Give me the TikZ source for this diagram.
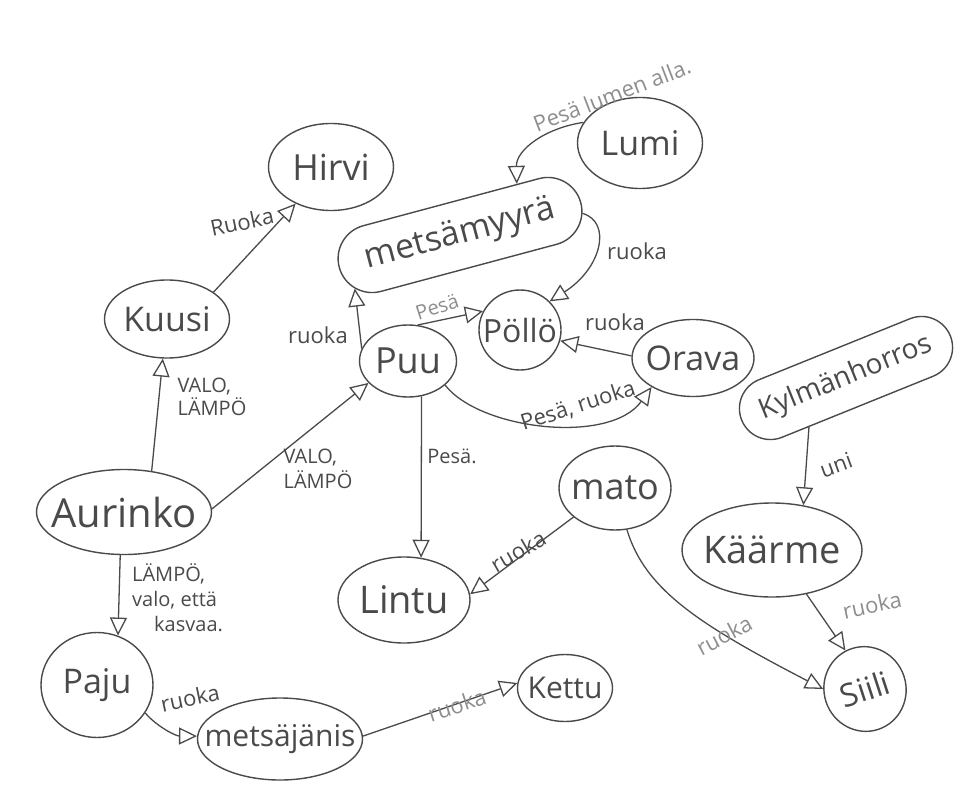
\documentclass[tikz,border=0pt]{standalone}
\usepackage{fontspec}
\setmainfont{Open Sans}
\usetikzlibrary{shapes.geometric,shapes.misc,arrows.meta}
\definecolor{ink}{HTML}{4A4A4A}
\definecolor{paleink}{HTML}{8E8E8E}
% text that does not widen its outline
\newcommand\fitless[1]{\makebox[0pt]{#1}}
\newcommand\sizeto[2]{\fontsize{#1}{#2}\selectfont}
\begin{document}
\begin{tikzpicture}[x=1pt,y=-1pt,
  blob/.style={ellipse,draw=ink,line width=1.4pt,inner sep=0pt,text=ink},
  capsule/.style={rounded rectangle,draw=ink,line width=1.4pt,inner sep=0pt,text=ink},
  link/.style={draw=ink,line width=1.3pt,-{Triangle[open,length=18pt,width=17pt]}},
  lbl/.style={text=ink,inner sep=0pt,align=left,font=\sizeto{22}{25}},
  pale/.style={text=paleink}]
\fill[white] (0,0) rectangle (980,789);
\useasboundingbox (0,0) rectangle (980,789);

% concepts
\node[blob,minimum width=125,minimum height=87,font=\sizeto{36}{40}] (hirvi) at (331,167) {\fitless{Hirvi}};
\node[blob,minimum width=125,minimum height=91,font=\sizeto{34}{38}] (lumi) at (640,143) {\fitless{Lumi}};
\node[capsule,minimum width=250,minimum height=68,rotate=15,font=\sizeto{34}{38}] (myyra) at (460,235) {\fitless{metsämyyrä}};
\node[blob,minimum width=125,minimum height=78,font=\sizeto{34}{38}] (kuusi) at (167,319) {\fitless{Kuusi}};
\node[blob,minimum width=82,minimum height=80,font=\sizeto{32}{36}] (pollo) at (520,330) {\fitless{Pöllö}};
\node[blob,minimum width=97,minimum height=72,font=\sizeto{36}{40}] (puu) at (408,361) {\fitless{Puu}};
\node[blob,minimum width=122,minimum height=77,font=\sizeto{34}{38}] (orava) at (693,358) {\fitless{Orava}};
\node[capsule,minimum width=225,minimum height=62,rotate=22,font=\sizeto{28}{32}] (kylm) at (846,378) {\fitless{Kylmänhorros}};
\node[blob,minimum width=112,minimum height=84,font=\sizeto{36}{40}] (mato) at (615,488) {\fitless{mato}};
\node[blob,minimum width=175,minimum height=85,font=\sizeto{40}{44}] (aurinko) at (124,512) {\fitless{Aurinko}};
\node[blob,minimum width=180,minimum height=94,font=\sizeto{38}{42}] (kaarme) at (772,550) {\fitless{Käärme}};
\node[blob,minimum width=132,minimum height=86,font=\sizeto{38}{42}] (lintu) at (404,600) {\fitless{Lintu}};
\node[blob,minimum width=112,minimum height=105,font=\sizeto{34}{38}] (paju) at (97,685) {\fitless{Paju}};
\node[blob,minimum width=165,minimum height=82,font=\sizeto{30}{34}] (jani) at (280,739) {\fitless{metsäjänis}};
\node[blob,minimum width=95,minimum height=67,font=\sizeto{30}{34}] (kettu) at (565,688) {\fitless{Kettu}};
\node[blob,minimum width=82,minimum height=85,rotate=18,font=\sizeto{32}{36}] (siili) at (865,689) {\fitless{Siili}};

% links
\draw[link] (kuusi.30) -- (hirvi.226);
\draw[link] (aurinko.56) -- (kuusi.264);
\draw[link] (aurinko.2) -- (puu.209);
\draw[link] (aurinko.265) -- (paju.67);
\draw[link] (paju.-30) .. controls (155,725) and (175,736) .. (jani.178);
\draw[link] (jani.2) -- (kettu.174);
\draw[link] (lumi.160) .. controls (545,128) and (516,150) .. (myyra.27);
\draw[link] (puu.165) -- (myyra.192);
\draw[link] (puu.75) -- (pollo.153);
\draw[link] (myyra.-5) .. controls (612,222) and (602,268) .. (pollo.44);
\draw[link] (orava.178) -- (pollo.-15);
\draw[link] (puu.-33) .. controls (480,430) and (610,445) .. (orava.215);
\draw[link] (puu.-69) -- (lintu.68);
\draw[link] (mato.215) -- (lintu.5);
\draw[link] (mato.-74) .. controls (645,590) and (700,625) .. (siili.162);
\draw[link] (kylm.211) -- (kaarme.55);
\draw[link] (kaarme.-52) -- (siili.99);

% link labels
\node[lbl,rotate=12] (t-hirvi) at (242,222) {Ruoka};
\node[lbl,font=\sizeto{20}{23}] (t-kuusi) at (212,397) {VALO,\\LÄMPÖ};
\node[lbl,font=\sizeto{20}{25}] (t-puu) at (318,469) {VALO,\\LÄMPÖ};
\node[lbl,font=\sizeto{20}{25},anchor=north west] (t-paju) at (132,563) {LÄMPÖ,\\valo, että\\\hspace*{22pt}kasvaa.};
\node[lbl,rotate=12] (t-jani) at (190,698) {ruoka};
\node[lbl,pale,rotate=18] (t-kettu) at (457,705) {ruoka};
\node[lbl,pale,rotate=21] (t-lumi) at (612,95) {Pesä lumen alla.};
\node[lbl] (t-myyra) at (318,335) {ruoka};
\node[lbl,pale,rotate=18,font=\sizeto{20}{23}] (t-pesa) at (437,307) {Pesä};
\node[lbl] (t-pollo1) at (637,251) {ruoka};
\node[lbl] (t-pollo2) at (615,322) {ruoka};
\node[lbl,rotate=18] (t-orava) at (578,406) {Pesä, ruoka};
\node[lbl,font=\sizeto{20}{23}] (t-lintu1) at (452,456) {Pesä.};
\node[lbl,rotate=30] (t-lintu2) at (518,551) {ruoka};
\node[lbl,pale,rotate=28] (t-siili1) at (724,635) {ruoka};
\node[lbl,rotate=20] (t-uni) at (836,465) {uni};
\node[lbl,pale,rotate=12] (t-siili2) at (872,605) {ruoka};
\end{tikzpicture}
\end{document}
